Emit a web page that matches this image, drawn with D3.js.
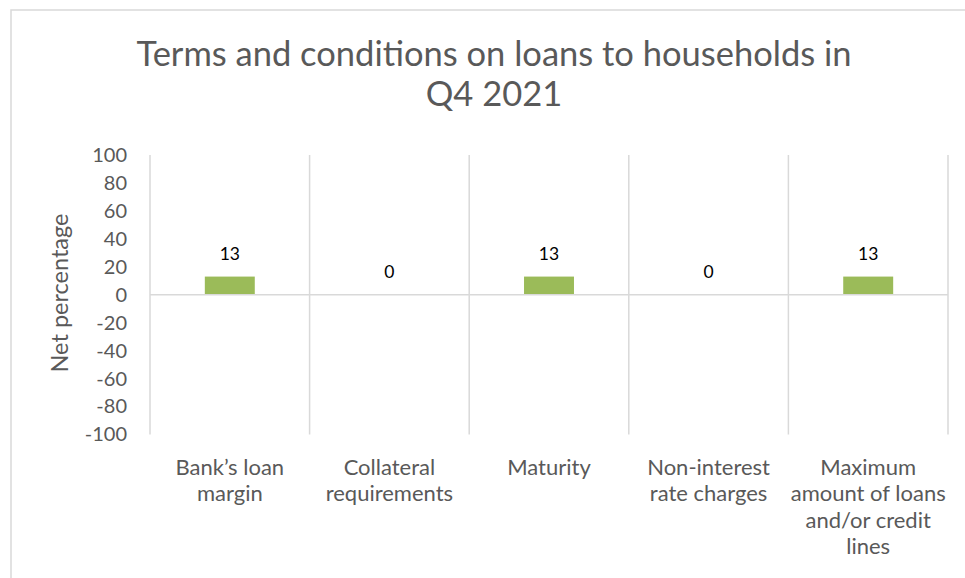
<!DOCTYPE html>
<html>
<head>
<meta charset="utf-8">
<script src="https://cdn.jsdelivr.net/npm/d3@7"></script>
<style>
  html, body { margin: 0; padding: 0; background: #ffffff; }
  svg { display: block; }
  text { font-family: Lato, "Open Sans", "Noto Sans", sans-serif; }
</style>
</head>
<body>
<svg id="chart" width="965" height="578"></svg>
<script>
// Survey results: net percentage of banks reporting a change, per loan term
const categories = [
  ["Bank\u2019s loan", "margin"],
  ["Collateral", "requirements"],
  ["Maturity"],
  ["Non-interest", "rate charges"],
  ["Maximum", "amount of loans", "and/or credit", "lines"]
];
const netValues = [13, 0, 13, 0, 13];
const yTicks = [100, 80, 60, 40, 20, 0, -20, -40, -60, -80, -100];
const titleLines = ["Terms and conditions on loans to households in", "Q4 2021"];
const yAxisTitle = "Net percentage";

const svg = d3.select("#chart");
const W = 965, H = 578;
const gridColor = "#d9d9d9";
const textColor = "#595959";

// Outer chart frame (extends past the right and bottom edges)
svg.append("rect")
  .attr("x", 11).attr("y", 10)
  .attr("width", W + 40).attr("height", H + 40)
  .attr("fill", "#ffffff")
  .attr("stroke", gridColor).attr("stroke-width", 1.5);

// Plot area
const plot = { left: 150, right: 948, top: 155, bottom: 434.5 };
const catIndex = categories.map((d, i) => i);

const x = d3.scaleBand()
  .domain(catIndex)
  .range([plot.left, plot.right])
  .padding(0);

const y = d3.scaleLinear()
  .domain([d3.min(yTicks), d3.max(yTicks)])
  .range([plot.bottom, plot.top]);

// Vertical category gridlines at the band boundaries
const boundaries = catIndex.map(i => x(i)).concat([x(catIndex[catIndex.length - 1]) + x.bandwidth()]);
svg.append("g")
  .selectAll("line")
  .data(boundaries)
  .join("line")
  .attr("x1", d => d).attr("x2", d => d)
  .attr("y1", plot.top).attr("y2", plot.bottom)
  .attr("stroke", gridColor).attr("stroke-width", 1.5);

// Bars
const barWidth = x.bandwidth() * 0.313;
svg.append("g")
  .selectAll("rect")
  .data(netValues)
  .join("rect")
  .attr("x", (d, i) => x(i) + x.bandwidth() / 2 - barWidth / 2)
  .attr("width", barWidth)
  .attr("y", d => y(Math.max(0, d)))
  .attr("height", d => Math.abs(y(d) - y(0)))
  .attr("fill", "#9bbb59");

// Zero axis line
svg.append("line")
  .attr("x1", plot.left).attr("x2", plot.right)
  .attr("y1", y(0)).attr("y2", y(0))
  .attr("stroke", gridColor).attr("stroke-width", 1.5);

// Y axis tick labels (plain hyphen for negatives)
const yAxis = d3.axisLeft(y)
  .tickValues(yTicks)
  .tickSize(0)
  .tickPadding(0)
  .tickFormat(d => String(d));
const yAxisG = svg.append("g")
  .attr("transform", `translate(${plot.left - 23},0)`)
  .call(yAxis);
yAxisG.select(".domain").remove();
yAxisG.selectAll("text")
  .attr("fill", textColor)
  .style("font-size", "20px")
  .style("font-family", "Lato, 'Open Sans', sans-serif");

// Value labels above the bars
svg.append("g")
  .selectAll("text")
  .data(netValues)
  .join("text")
  .attr("x", (d, i) => x(i) + x.bandwidth() / 2)
  .attr("y", d => y(Math.max(0, d)) - 17)
  .attr("text-anchor", "middle")
  .attr("fill", "#000000")
  .style("font-size", "17.5px")
  .text(d => d);

// Category labels (multi-line)
const catG = svg.append("g");
categories.forEach((lines, i) => {
  const t = catG.append("text")
    .attr("x", x(i) + x.bandwidth() / 2)
    .attr("y", 475)
    .attr("text-anchor", "middle")
    .attr("fill", textColor)
    .style("font-size", "22px");
  lines.forEach((line, j) => {
    t.append("tspan")
      .attr("x", x(i) + x.bandwidth() / 2)
      .attr("y", 475 + j * 26.3)
      .text(line);
  });
});

// Y axis title
svg.append("text")
  .attr("transform", `translate(68,293) rotate(-90)`)
  .attr("text-anchor", "middle")
  .attr("fill", textColor)
  .style("font-size", "23.5px")
  .text(yAxisTitle);

// Chart title
const titleG = svg.append("text")
  .attr("text-anchor", "middle")
  .attr("fill", textColor)
  .style("font-size", "34.5px");
titleLines.forEach((line, j) => {
  titleG.append("tspan")
    .attr("x", 494)
    .attr("y", 66 + j * 39.5)
    .text(line);
});
</script>
</body>
</html>
